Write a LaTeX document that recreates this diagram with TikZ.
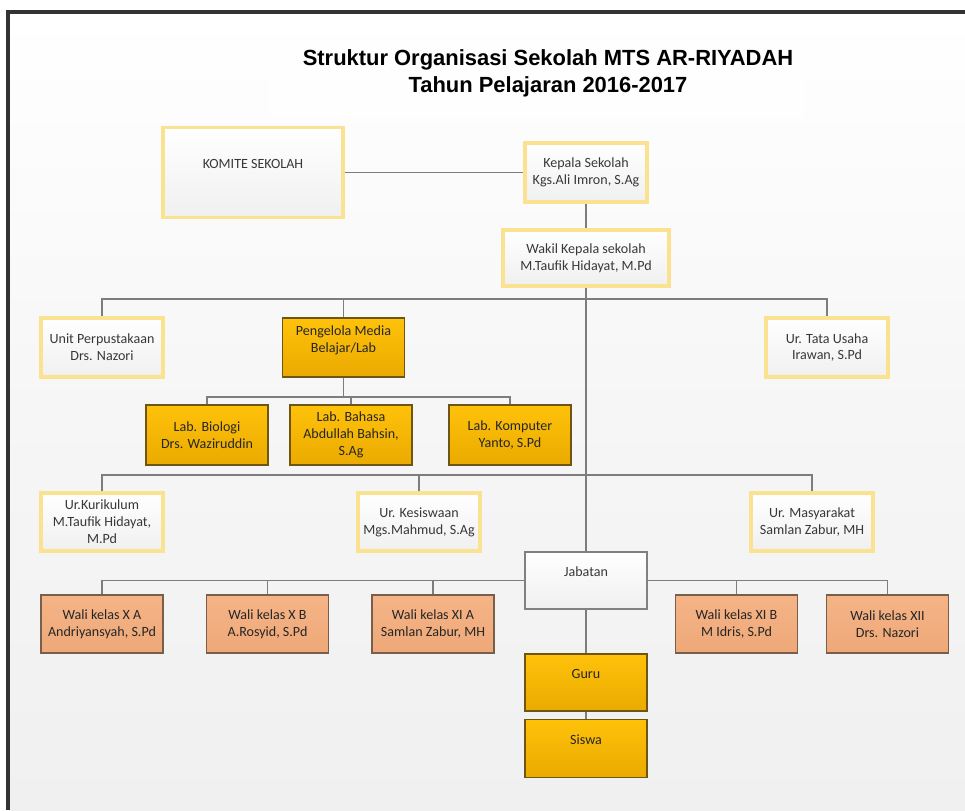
\documentclass[tikz,border=0pt]{standalone}
\usepackage{fontspec}
\setmainfont{Carlito}
\newfontfamily\judulfont{Liberation Sans}
\usetikzlibrary{calc,positioning}
\definecolor{kuningtepi}{RGB}{250,226,145}
\definecolor{emas}{RGB}{255,194,10}
\definecolor{emastua}{RGB}{234,170,0}
\definecolor{emastepi}{RGB}{110,85,20}
\definecolor{jingga}{RGB}{245,180,135}
\definecolor{jinggatua}{RGB}{238,168,120}
\definecolor{jinggatepi}{RGB}{120,95,75}
\definecolor{garisabu}{RGB}{125,125,125}
\definecolor{latar}{RGB}{240,240,240}

\begin{document}
\begin{tikzpicture}[x=0.025cm,y=-0.025cm,{boxkuning/.style={rectangle,draw=kuningtepi,line width=2.4pt,top color=white,bottom color=gray!12,text=black!78,align=center,font=\fontsize{10}{12}\selectfont,minimum width=3.05cm,minimum height=1.475cm,inner sep=1pt}},{boxemas/.style={rectangle,draw=emastepi,line width=0.8pt,top color=emas,bottom color=emastua,text=black!85,align=center,font=\fontsize{10}{12}\selectfont,minimum width=3.05cm,minimum height=1.5cm,inner sep=1pt}},{boxjingga/.style={rectangle,draw=jinggatepi,line width=0.8pt,top color=jingga,bottom color=jinggatua,text=black!85,align=center,font=\fontsize{10}{12}\selectfont,minimum width=3.05cm,minimum height=1.45cm,inner sep=1pt}},{boxabu/.style={rectangle,draw=gray,line width=0.8pt,top color=white,bottom color=gray!12,text=black!78,align=center,font=\fontsize{10}{12}\selectfont,minimum width=3.05cm,minimum height=1.425cm,inner sep=1pt}},{garis/.style={draw=garisabu,line width=0.9pt}}]
	\useasboundingbox (0,0) rectangle (965,810);
	%%background and frame
	\shade [top color=white,bottom color=latar,middle color=latar!60] (8,12) rectangle (965,810);
	\fill [white,opacity=0.6] (270,30) rectangle (805,118);
	\draw [black!80,line width=2.2pt] (8,810) -- (8,12) -- (965,12);
	%%title
	\node [align=center,font=\judulfont\fontsize{15.6}{19.2}\selectfont\bfseries] (judul) at (548,73.5) {Struktur Organisasi Sekolah MTS AR-RIYADAH\\Tahun Pelajaran 2016-2017};
	%%pimpinan
	\node [boxkuning,minimum width=4.5cm,minimum height=2.25cm] (komite) at (253,172.5) {KOMITE SEKOLAH\\~};
	\node [boxkuning] (kepala) at (586,172.5) {Kepala Sekolah\\Kgs.Ali Imron, S.Ag};
	\node [boxkuning,minimum width=4.15cm,minimum height=1.4cm] (wakil) at (586,258) {Wakil Kepala sekolah\\M.Taufik Hidayat, M.Pd};
	%%baris pertama
	\node [boxkuning] (unit) at (102,347.5) {Unit Perpustakaan\\Drs. Nazori};
	\node [boxemas,minimum height=1.475cm] (pengelola) at (343.5,347.5) {Pengelola Media\\Belajar/Lab\\~};
	\node [boxkuning] (tatausaha) at (827,347.5) {Ur. Tata Usaha\\Irawan, S.Pd};
	%%lab
	\node [boxemas] (biologi) at (207,435) {Lab. Biologi\\Drs. Waziruddin};
	\node [boxemas] (bahasa) at (351,435) {Lab. Bahasa\\Abdullah Bahsin,\\S.Ag};
	\node [boxemas] (komputer) at (510,435) {Lab. Komputer\\Yanto, S.Pd};
	%%urusan
	\node [boxkuning,minimum height=1.45cm] (kurikulum) at (102,522) {Ur.Kurikulum\\M.Taufik Hidayat,\\M.Pd};
	\node [boxkuning,minimum height=1.45cm] (kesiswaan) at (419,522) {Ur. Kesiswaan\\Mgs.Mahmud, S.Ag};
	\node [boxkuning,minimum height=1.45cm] (masyarakat) at (812,522) {Ur. Masyarakat\\Samlan Zabur, MH};
	%%jabatan dan wali kelas
	\node [boxabu] (jabatan) at (586,580.5) {Jabatan\\~};
	\node [boxjingga] (walixa) at (102,624) {Wali kelas X A\\Andriyansyah, S.Pd};
	\node [boxjingga] (walixb) at (267.5,624) {Wali kelas X B\\A.Rosyid, S.Pd};
	\node [boxjingga] (walixia) at (433,624) {Wali kelas XI A\\Samlan Zabur, MH};
	\node [boxjingga] (walixib) at (736.5,624) {Wali kelas XI B\\M Idris, S.Pd};
	\node [boxjingga] (walixii) at (887.5,624) {Wali kelas XII\\Drs. Nazori};
	%%guru dan siswa
	\node [boxemas,minimum height=1.425cm] (guru) at (586,682.5) {Guru\\~};
	\node [boxemas,minimum height=1.45cm,below=0.175cm of guru] (siswa) {Siswa\\~};
	%%garis
	\coordinate (c1) at (586,299);
	\coordinate (c2) at (343.5,397);
	\coordinate (c3) at (586,475);
	\draw [garis] (komite) -- (kepala);
	\draw [garis] (kepala) -- (wakil);
	\draw [garis] (wakil) -- (jabatan);
	\draw [garis] (unit.north) |- (c1) -| (tatausaha.north);
	\draw [garis] (pengelola.north) -- (pengelola.north |- c1);
	\draw [garis] (pengelola) -- (c2);
	\draw [garis] (biologi.north) |- (c2) -| (komputer.north);
	\draw [garis] (bahasa.north) -- (bahasa.north |- c2);
	\draw [garis] (kurikulum.north) |- (c3) -| (masyarakat.north);
	\draw [garis] (kesiswaan.north) -- (kesiswaan.north |- c3);
	\draw [garis] (walixa.north) |- (jabatan.west);
	\draw [garis] (walixii.north) |- (jabatan.east);
	\draw [garis] (walixb.north) -- (walixb.north |- jabatan.west);
	\draw [garis] (walixia.north) -- (walixia.north |- jabatan.west);
	\draw [garis] (walixib.north) -- (walixib.north |- jabatan.east);
	\draw [garis] (jabatan) -- (guru);
	\draw [garis] (guru) -- (siswa);
\end{tikzpicture}
\end{document}
